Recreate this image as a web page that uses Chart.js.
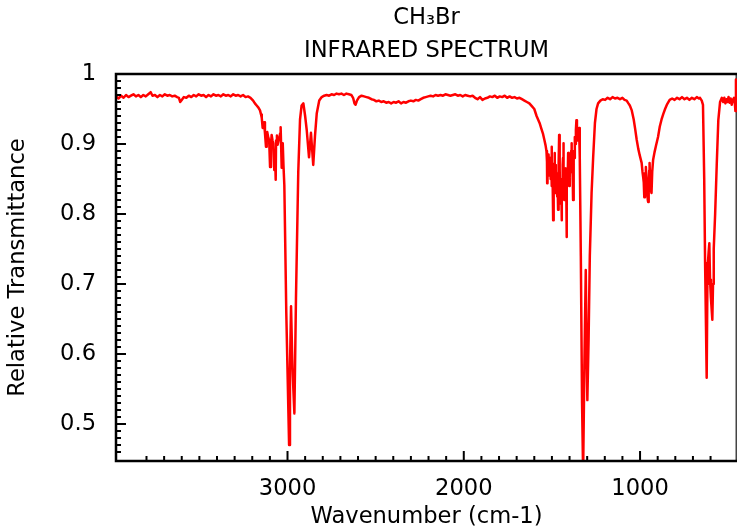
<!DOCTYPE html>
<html lang="en">
<head>
  <meta charset="UTF-8">
  <title>CH3Br Infrared Spectrum</title>
  <script src="https://cdn.jsdelivr.net/npm/chart.js"></script>
  <style>
    html, body { margin: 0; padding: 0; background: #fff; }
    canvas { display: block; }
  </style>
</head>
<body>
  <canvas id="irChart" width="737" height="527"></canvas>

  <script>
    // Spectrum (wavenumber in cm-1, relative transmittance)
    const wavenumbers = [
      3972, 3958, 3944, 3930, 3916, 3902, 3888, 3874, 3860, 3846, 3832, 3818, 3804, 3790, 3776, 3766,
      3752, 3738, 3724, 3710, 3696, 3682, 3668, 3654, 3640, 3626, 3616, 3609, 3600, 3588, 3574, 3560,
      3546, 3532, 3518, 3504, 3490, 3476, 3462, 3448, 3434, 3420, 3406, 3392, 3378, 3364, 3350, 3336,
      3322, 3308, 3294, 3280, 3266, 3252, 3238, 3224, 3210,
      3195, 3185, 3175, 3165, 3156, 3150, 3146, 3141, 3137, 3133, 3128, 3122, 3118, 3115, 3109, 3104,
      3099, 3094, 3090, 3085, 3081, 3075, 3070, 3067, 3065, 3060, 3056, 3051, 3046, 3042, 3039, 3036,
      3033, 3030, 3027, 3023, 3018, 3007, 2991, 2986, 2980, 2972, 2961, 2952, 2939, 2929, 2920, 2910,
      2900, 2891, 2878, 2867, 2854, 2844, 2834, 2820, 2806,
      2792, 2778, 2764, 2750, 2736, 2722, 2708, 2694, 2680, 2666, 2652, 2638, 2628, 2620, 2614, 2606,
      2594, 2580, 2566, 2552, 2538, 2524, 2510, 2496, 2482, 2468, 2454, 2440, 2426, 2412, 2398, 2384,
      2370, 2356, 2342, 2328, 2314, 2300, 2286, 2272, 2258, 2244, 2230, 2216, 2202, 2188, 2174, 2160,
      2146, 2132, 2118, 2104, 2090, 2076, 2062, 2048, 2034, 2020, 2006, 1992, 1978, 1964, 1950, 1936,
      1922, 1908, 1894, 1880, 1866, 1852, 1838, 1824, 1810, 1796, 1782, 1768, 1754, 1740, 1726, 1712,
      1698, 1684, 1670, 1656, 1642, 1628, 1614, 1600, 1587, 1570, 1560, 1550, 1542, 1536, 1531,
      1528, 1527, 1525, 1522, 1519, 1516, 1514, 1512, 1509, 1507, 1504, 1502, 1500, 1497, 1495, 1493,
      1491, 1489, 1487, 1485, 1483, 1481, 1479, 1477, 1474, 1472, 1470, 1468, 1465, 1463, 1461, 1459,
      1457, 1455, 1453, 1451, 1449, 1447, 1445, 1443, 1441, 1439, 1437, 1436, 1434, 1432, 1430, 1428,
      1426, 1424, 1421, 1419, 1417, 1415, 1413, 1411, 1408, 1406, 1404, 1402, 1400, 1398, 1396, 1393,
      1391, 1389, 1387, 1384, 1382, 1380, 1378, 1375, 1373, 1370, 1367, 1364, 1361, 1358, 1355, 1351,
      1349, 1346, 1342, 1336, 1329, 1323, 1316, 1308, 1303, 1299, 1292, 1285, 1275, 1266, 1256, 1247,
      1238, 1225, 1212, 1198, 1184, 1170, 1156, 1142, 1128, 1114, 1100, 1088, 1076, 1066, 1058, 1047,
      1036, 1028, 1019, 1010, 1002, 995, 991, 986, 982, 979, 976, 972, 969, 967, 963, 959,
      956, 954, 951, 948, 946, 943, 940, 935, 931, 926, 918, 910, 898, 888, 878, 868,
      858, 846, 832, 818, 804, 790, 776, 762, 748, 734, 720, 706, 692, 678, 666, 660,
      650, 643, 636, 631, 626, 622, 618, 615, 611, 607, 603, 598, 590, 586, 582, 574,
      565, 556, 546, 536, 528, 522, 516, 510, 504, 498, 492, 486, 480, 474, 467, 462,
      459, 456, 453
    ];
    const transmittance = [
      0.968, 0.965, 0.969, 0.966, 0.970, 0.967, 0.969, 0.971, 0.968, 0.970, 0.967, 0.970, 0.968, 0.971, 0.974, 0.969,
      0.970, 0.967, 0.970, 0.968, 0.971, 0.969, 0.970, 0.968, 0.969, 0.967, 0.966, 0.960, 0.963, 0.967, 0.966, 0.969,
      0.967, 0.970, 0.968, 0.971, 0.969, 0.970, 0.967, 0.970, 0.968, 0.971, 0.969, 0.970, 0.968, 0.971, 0.969, 0.970,
      0.968, 0.971, 0.969, 0.970, 0.968, 0.970, 0.967, 0.968, 0.966,
      0.962, 0.958, 0.955, 0.952, 0.948, 0.942, 0.937, 0.923, 0.928, 0.931, 0.916, 0.896, 0.912, 0.917, 0.909, 0.905,
      0.867, 0.898, 0.913, 0.905, 0.901, 0.863, 0.880, 0.849, 0.905, 0.912, 0.899, 0.905, 0.909, 0.915, 0.924, 0.895,
      0.866, 0.890, 0.901, 0.870, 0.841, 0.660, 0.470, 0.580, 0.668, 0.580, 0.515, 0.680, 0.860, 0.935, 0.955, 0.958,
      0.940, 0.920, 0.881, 0.916, 0.870, 0.912, 0.944, 0.962, 0.967,
      0.969, 0.970, 0.969, 0.971, 0.970, 0.972, 0.971, 0.972, 0.970, 0.972, 0.971, 0.970, 0.966, 0.958, 0.956, 0.962,
      0.967, 0.969, 0.968, 0.967, 0.966, 0.964, 0.963, 0.961, 0.962, 0.960, 0.961, 0.959, 0.960, 0.958, 0.960, 0.959,
      0.961, 0.958, 0.960, 0.959, 0.961, 0.962, 0.961, 0.963, 0.962, 0.964, 0.966, 0.967, 0.968, 0.969, 0.968, 0.970,
      0.969, 0.970, 0.969, 0.971, 0.970, 0.969, 0.970, 0.971, 0.969, 0.970, 0.968, 0.970, 0.969, 0.968, 0.969, 0.966,
      0.964, 0.967, 0.963, 0.965, 0.966, 0.968, 0.967, 0.969, 0.966, 0.968, 0.967, 0.969, 0.966, 0.968, 0.966, 0.967,
      0.965, 0.966, 0.964, 0.962, 0.960, 0.958, 0.954, 0.950, 0.940, 0.930, 0.922, 0.914, 0.905, 0.898, 0.890,
      0.875, 0.844, 0.880, 0.870, 0.885, 0.855, 0.875, 0.862, 0.880, 0.850, 0.878, 0.896, 0.840, 0.868, 0.830, 0.791,
      0.860, 0.835, 0.872, 0.887, 0.845, 0.870, 0.830, 0.862, 0.844, 0.858, 0.825, 0.850, 0.806, 0.845, 0.870, 0.913,
      0.840, 0.865, 0.820, 0.850, 0.815, 0.845, 0.791, 0.850, 0.835, 0.870, 0.880, 0.901, 0.840, 0.860, 0.820, 0.855,
      0.835, 0.865, 0.825, 0.850, 0.767, 0.840, 0.862, 0.845, 0.887, 0.850, 0.870, 0.840, 0.865, 0.853, 0.880, 0.860,
      0.890, 0.901, 0.865, 0.880, 0.850, 0.820, 0.870, 0.890, 0.880, 0.910, 0.900, 0.920, 0.934, 0.915, 0.905, 0.910,
      0.918, 0.923, 0.881, 0.740, 0.530, 0.430, 0.580, 0.720, 0.600, 0.534, 0.620, 0.740, 0.830, 0.881, 0.930, 0.950,
      0.958, 0.962, 0.964, 0.963, 0.966, 0.964, 0.967, 0.965, 0.966, 0.964, 0.966, 0.963, 0.962, 0.958, 0.955, 0.948,
      0.935, 0.922, 0.906, 0.893, 0.884, 0.877, 0.873, 0.860, 0.852, 0.845, 0.824, 0.858, 0.850, 0.867, 0.840, 0.830,
      0.820, 0.817, 0.850, 0.862, 0.873, 0.850, 0.835, 0.830, 0.860, 0.877, 0.888, 0.897, 0.910, 0.925, 0.935, 0.943,
      0.950, 0.957, 0.963, 0.965, 0.963, 0.966, 0.964, 0.967, 0.964, 0.966, 0.963, 0.966, 0.964, 0.967, 0.965, 0.966,
      0.962, 0.956, 0.850, 0.730, 0.640, 0.566, 0.700, 0.730, 0.745, 0.758, 0.706, 0.680, 0.649, 0.700, 0.750, 0.800,
      0.870, 0.934, 0.960, 0.966, 0.960, 0.966, 0.958, 0.964, 0.960, 0.967, 0.959, 0.965, 0.956, 0.963, 0.966, 0.958,
      0.947, 0.992, 0.950
    ];

    const titleLines = ['CH\u2083Br', 'INFRARED SPECTRUM'];
    const xTitle = 'Wavenumber (cm-1)';
    const yTitle = 'Relative Transmittance';

    Chart.defaults.font.family = '"DejaVu Sans", sans-serif';
    Chart.defaults.font.size = 22.6;
    Chart.defaults.color = '#000';

    // title centred over the plot area, not over the whole canvas
    const plotTitle = {
      id: 'plotTitle',
      afterDraw(chart) {
        const { ctx, chartArea } = chart;
        const cx = (chartArea.left + chartArea.right) / 2;
        ctx.save();
        ctx.font = '22.6px "DejaVu Sans"';
        ctx.fillStyle = '#000';
        ctx.textAlign = 'center';
        ctx.textBaseline = 'middle';
        titleLines.forEach((t, i) => ctx.fillText(t, cx, 18 + i * 33));
        ctx.restore();
      }
    };

    // frame and inward ticks, drawn from the scales' own ticks
    const frame = {
      id: 'frame',
      beforeDatasetsDraw(chart) {
        // thin grey right edge sits under the spectrum
        const { ctx, chartArea: { right, top, bottom } } = chart;
        ctx.save();
        ctx.strokeStyle = '#444';
        ctx.lineWidth = 1.5;
        ctx.beginPath();
        ctx.moveTo(right - 0.75, top);
        ctx.lineTo(right - 0.75, bottom);
        ctx.stroke();
        ctx.restore();
      },
      afterDatasetsDraw(chart) {
        const { ctx, chartArea: { left, right, top, bottom }, scales: { x, y } } = chart;
        ctx.save();
        ctx.strokeStyle = '#000';
        ctx.lineWidth = 2;
        ctx.beginPath();
        x.ticks.forEach(t => {
          if (t.value % 100 !== 0) return;
          const px = x.getPixelForValue(t.value);
          const len = t.value % 1000 === 0 ? 10 : 5;
          ctx.moveTo(px, bottom);
          ctx.lineTo(px, bottom - len);
        });
        y.ticks.forEach(t => {
          const k = Math.round(t.value * 100);
          if (Math.abs(t.value * 100 - k) > 1e-6) return;
          const py = y.getPixelForValue(t.value);
          const len = k % 10 === 0 ? 10 : 5;
          ctx.moveTo(left, py);
          ctx.lineTo(left + len, py);
        });
        ctx.stroke();

        ctx.lineWidth = 2.5;
        ctx.beginPath();
        ctx.moveTo(right, top);
        ctx.lineTo(left, top);
        ctx.lineTo(left, bottom);
        ctx.lineTo(right, bottom);
        ctx.stroke();
        ctx.restore();
      }
    };

    const ctx = document.getElementById('irChart').getContext('2d');
    new Chart(ctx, {
      type: 'line',
      data: {
        datasets: [{
          label: 'CH3Br',
          data: wavenumbers.map((w, i) => ({ x: w, y: transmittance[i] })),
          borderColor: '#ff0000',
          borderWidth: 2.5,
          borderJoinStyle: 'round',
          pointRadius: 0,
          tension: 0,
          fill: false
        }]
      },
      options: {
        responsive: false,
        animation: false,
        layout: { padding: { top: 74, left: 0, right: 0, bottom: 0 } },
        plugins: {
          legend: { display: false },
          tooltip: { enabled: false }
        },
        scales: {
          x: {
            type: 'linear',
            reverse: true,
            min: 450,
            max: 3973,
            grid: { display: false },
            border: { display: false },
            ticks: {
              stepSize: 100,
              autoSkip: false,
              maxRotation: 0,
              minRotation: 0,
              padding: 7,
              callback: v => (v % 1000 === 0 ? String(v) : '')
            },
            title: { display: true, text: xTitle, padding: { top: 0, bottom: -3.5 } },
            afterFit: s => {
              s.height = 66;
              // no side padding: the plot runs to the right edge of the canvas
              s.paddingLeft = 0;
              s.paddingRight = 0;
            }
          },
          y: {
            min: 0.447,
            max: 1,
            grid: { display: false },
            border: { display: false },
            ticks: {
              stepSize: 0.01,
              autoSkip: false,
              padding: 12,
              callback: v => {
                const k = Math.round(v * 100);
                if (Math.abs(v * 100 - k) > 1e-6 || k % 10 !== 0) return '';
                return k === 100 ? '1' : (k / 100).toFixed(1);
              }
            },
            title: { display: true, text: yTitle, padding: { top: 4.5, bottom: 0 } },
            afterFit: s => { s.width = 116; }
          }
        }
      },
      plugins: [plotTitle, frame]
    });
  </script>
</body>
</html>
